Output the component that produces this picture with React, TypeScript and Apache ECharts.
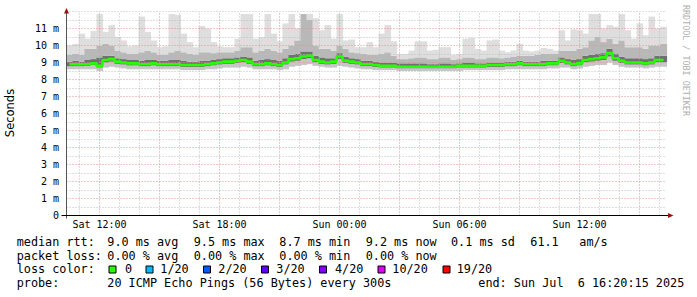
import React, { useEffect, useRef } from 'react';
import * as echarts from 'echarts';

// time axis: hours since Sat 00:00
const START_H = 10.35;
const END_H = 40.35;
const STEP_H = 0.3;

const median = [8.9,8.9,8.9,8.9,8.95, 8.8,9.15,9.2,9.05,9.0, 8.95,8.95,8.9,8.9,8.95, 8.9,8.9,8.9,8.9,8.85, 8.85,8.85,8.85,8.9,8.95, 9.0,9.05,9.05,9.1,9.15, 9.05,8.9,8.9,8.95,8.9, 8.85,9.0,9.2,9.25,9.35, 9.4,9.15,9.05,9.0,9.05, 9.35,9.1,9.05,9.0,8.9, 8.9,8.85,8.8,8.8,8.8, 8.75,8.75,8.75,8.75,8.75, 8.75,8.75,8.75,8.75,8.75, 8.8,8.8,8.8,8.8,8.8, 8.85,8.85,8.85,8.9,8.9, 8.95,8.9,8.9,8.9,8.9, 8.95,8.95,9.1,9.0,8.9, 8.95,9.15,9.2,9.25,9.3, 9.55,9.25,9.1,9.0,9.0, 9.0,8.95,9.0,9.15,9.15];
const smokeLow = [8.6,8.6,8.6,8.6,8.6, 8.5,8.7,8.75,8.7,8.65, 8.6,8.6,8.6,8.6,8.6, 8.6,8.6,8.6,8.6,8.55, 8.55,8.55,8.55,8.6,8.6, 8.65,8.7,8.7,8.7,8.75, 8.7,8.6,8.6,8.6,8.6, 8.55,8.6,8.75,8.8,8.85, 8.9,8.8,8.75,8.7,8.7, 8.8,8.75,8.7,8.65,8.6, 8.6,8.55,8.55,8.55,8.55, 8.5,8.5,8.5,8.5,8.5, 8.5,8.5,8.5,8.5,8.5, 8.5,8.55,8.55,8.55,8.55, 8.55,8.55,8.55,8.6,8.6, 8.6,8.6,8.6,8.6,8.6, 8.65,8.65,8.7,8.7,8.6, 8.65,8.75,8.8,8.85,8.85, 9.0,8.85,8.75,8.7,8.7, 8.7,8.65,8.7,8.75,8.75];
const smokeLowDark = [8.78,8.78,8.78,8.8,8.85, 8.7,9.0,9.05,8.92,8.88, 8.83,8.83,8.78,8.78,8.83, 8.78,8.78,8.78,8.78,8.74, 8.74,8.74,8.74,8.78,8.83, 8.88,8.92,8.92,8.97,9.02, 8.92,8.78,8.78,8.83,8.78, 8.74,8.88,9.05,9.1,9.2, 9.25,9.02,8.92,8.88,8.92, 9.2,8.97,8.92,8.88,8.78, 8.78,8.74,8.7,8.7,8.7, 8.66,8.66,8.66,8.66,8.66, 8.66,8.66,8.66,8.66,8.66, 8.7,8.7,8.7,8.7,8.7, 8.74,8.74,8.74,8.78,8.78, 8.83,8.78,8.78,8.78,8.78, 8.83,8.83,8.97,8.88,8.78, 8.83,9.02,9.05,9.1,9.15, 9.35,9.1,8.97,8.88,8.88, 8.88,8.83,8.88,9.02,9.02];
const smokeHighDark = [9.05,9.1,9.05,9.15,9.2, 9.3,9.4,9.4,9.25,9.2, 9.15,9.15,9.1,9.15,9.15, 9.1,9.1,9.15,9.15,9.1, 9.05,9.05,9.1,9.1,9.15, 9.2,9.25,9.25,9.3,9.35, 9.3,9.1,9.15,9.2,9.15, 9.1,9.25,9.45,9.5,9.65, 9.65,9.4,9.3,9.25,9.25, 9.55,9.35,9.25,9.2,9.1, 9.1,9.05,9.0,9.0,9.0, 8.95,8.95,8.95,8.95,8.95, 8.9,8.9,8.95,8.95,8.9, 8.95,9.0,9.0,8.95,8.95, 9.0,9.0,9.0,9.05,9.05, 9.1,9.05,9.05,9.05,9.1, 9.1,9.1,9.3,9.2,9.15, 9.2,9.4,9.45,9.5,9.55, 9.8,9.5,9.35,9.25,9.25, 9.25,9.2,9.25,9.4,9.4];
const smokeHighMid = [9.45,9.5,9.45,9.8,9.8, 10.0,10.1,10.0,9.7,9.6, 9.5,9.5,9.6,9.7,9.6, 9.45,9.45,9.6,9.7,9.6, 9.5,9.45,9.6,9.6,9.55, 9.6,9.6,9.6,9.7,9.9, 9.9,9.6,9.7,9.8,9.7, 9.6,9.8,10.0,10.3,11.85, 11.5,10.0,9.8,9.8,9.7, 10.0,9.8,9.6,9.55,9.5, 9.45,9.45,9.5,9.6,9.4, 9.2,9.2,9.25,9.3,9.3, 9.2,9.2,9.3,9.3,9.15, 9.2,9.3,9.3,9.2,9.2, 9.3,9.3,9.25,9.3,9.35, 9.4,9.4,9.4,9.45,9.5, 9.5,9.5,9.7,9.7,9.7, 9.8,9.9,10.3,10.5,10.2, 10.4,10.1,10.3,9.9,9.9, 9.9,9.8,10.0,10.0,10.1];
const smokeMax = [10.0,10.1,10.7,10.4,10.85, 11.85,10.8,11.2,10.5,10.3, 9.95,10.0,11.7,10.8,10.3, 9.9,9.95,11.85,11.8,10.7, 10.2,9.9,11.15,11.0,10.2, 9.95,9.9,9.9,10.4,11.85, 11.85,10.4,10.5,11.85,10.7, 10.25,11.3,11.85,11.0,11.85, 11.85,11.6,10.9,11.2,10.4, 11.85,10.3,10.35,9.9,9.9, 10.2,9.9,10.7,11.2,10.25, 9.5,9.5,9.7,10.25,10.25, 9.7,9.75,9.9,9.9,9.45, 9.5,10.4,10.45,9.8,9.7, 10.3,10.35,9.7,9.6,9.7, 10.1,9.7,9.65,9.7,9.85, 9.8,9.7,10.9,10.3,10.95, 10.9,10.7,11.85,11.85,11.0, 11.2,11.1,11.85,10.9,10.4, 11.3,10.6,11.7,11.0,11.1];

const xLabelHours = [12, 18, 24, 30, 36];
const xLabelTexts = ['Sat 12:00', 'Sat 18:00', 'Sun 00:00', 'Sun 06:00', 'Sun 12:00'];
const hourGrid = [11, 13, 14, 16, 17, 19, 20, 22, 23, 25, 26, 28, 29, 31, 32, 34, 35, 37, 38, 40];
const majorHourGrid = [12, 15, 18, 21, 24, 27, 30, 33, 36, 39];
const yMajorGrid = [1, 2, 3, 4, 5, 6, 7, 8, 9, 10, 11];
const yMinorGrid = [0.5, 1.5, 2.5, 3.5, 4.5, 5.5, 6.5, 7.5, 8.5, 9.5, 10.5, 11.5, 12];

const legendRtt = ['median rtt:', '9.0 ms avg', '9.5 ms max', '8.7 ms min', '9.2 ms now', '0.1 ms sd', '61.1', 'am/s'];
const legendLoss = ['packet loss:', '0.00 % avg', '0.00 % max', '0.00 % min', '0.00 % now'];
const lossLabels = ['0', '1/20', '2/20', '3/20', '4/20', '10/20', '19/20'];
const lossColors = ['#26ff00', '#00b8ff', '#0059ff', '#5e00ff', '#7e00ff', '#dd00ff', '#ff0000'];
const probeText = ['probe:', '20 ICMP Echo Pings (56 Bytes) every 300s', 'end: Sun Jul  6 16:20:15 2025'];

const MONO = '"DejaVu Sans Mono", monospace';

export default function App() {
  const ref = useRef<HTMLDivElement>(null);
  useEffect(() => {
    const chart = echarts.init(ref.current!, null, { renderer: 'svg' });
    const times = median.map((_, i) => START_H + (i + 0.5) * STEP_H);
    const smokeData = times.map((t, i) => [t, smokeLow[i], smokeLowDark[i], smokeHighDark[i], smokeHighMid[i], smokeMax[i]]);
    const medianData = times.map((t, i) => [t, median[i]]);

    const bands: [number, number, string][] = [
      [1, 2, '#c6c6c6'],
      [2, 3, '#707070'],
      [3, 4, '#b8b8b8'],
      [4, 5, '#dedede'],
    ];

    const gridX = 66.5, gridTop = 11.5, gridW = 600, gridH = 204;
    const axisY = gridTop + gridH;

    const rttX = [16.7, 107.3, 193.7, 279.3, 365.7, 451, 530.3, 579.3];
    const lossX = [16.7, 107.3, 193.7, 279.3, 365.7];
    const boxX = [109, 146, 203.5, 261.5, 319.5, 378, 443];
    const boxTextX = [125, 160.3, 218.3, 276.3, 335, 392.3, 456.7];
    const probeX = [16.7, 107.3, 478.3];
    const rowY = [241.5, 255.5, 269.3, 282.7];
    const fontLeg = `11.8px ${MONO}`;

    const graphic: any[] = [];
    legendRtt.forEach((t, i) => graphic.push({ type: 'text', x: rttX[i], y: rowY[0], style: { text: t, font: fontLeg, fill: '#000', verticalAlign: 'middle' } }));
    legendLoss.forEach((t, i) => graphic.push({ type: 'text', x: lossX[i], y: rowY[1], style: { text: t, font: fontLeg, fill: '#000', verticalAlign: 'middle' } }));
    graphic.push({ type: 'text', x: 16.7, y: rowY[2], style: { text: 'loss color:', font: fontLeg, fill: '#000', verticalAlign: 'middle' } });
    lossLabels.forEach((t, i) => {
      graphic.push({ type: 'rect', shape: { x: boxX[i], y: 266, width: 7, height: 7 }, style: { fill: lossColors[i], stroke: '#000', lineWidth: 1 } });
      graphic.push({ type: 'text', x: boxTextX[i], y: rowY[2], style: { text: t, font: fontLeg, fill: '#000', verticalAlign: 'middle' } });
    });
    probeText.forEach((t, i) => graphic.push({ type: 'text', x: probeX[i], y: rowY[3], style: { text: t, font: fontLeg, fill: '#000', verticalAlign: 'middle' } }));
    graphic.push({ type: 'text', x: 10, y: 113, rotation: Math.PI / 2, style: { text: 'Seconds', font: '11.5px "DejaVu Sans", sans-serif', fill: '#000', align: 'center', verticalAlign: 'middle' } });
    graphic.push({ type: 'text', x: 686, y: 5, rotation: -Math.PI / 2, style: { text: 'RRDTOOL / TOBI OETIKER', font: `8.4px ${MONO}`, fill: '#b0b0b0', align: 'left', verticalAlign: 'middle' } });
    // axes
    graphic.push({ type: 'line', z: 100, shape: { x1: gridX, y1: axisY + 3, x2: gridX, y2: 13 }, style: { stroke: '#555', lineWidth: 1 } });
    graphic.push({ type: 'line', z: 100, shape: { x1: 61.5, y1: axisY, x2: 668, y2: axisY }, style: { stroke: '#000', lineWidth: 1 } });
    graphic.push({ type: 'polygon', z: 101, shape: { points: [[64, 13.5], [69, 13.5], [66.5, 8]] }, style: { fill: '#9b1111' } });
    graphic.push({ type: 'polygon', z: 101, shape: { points: [[668, axisY - 2.5], [668, axisY + 2.5], [673.5, axisY]] }, style: { fill: '#9b1111' } });

    const dash = [1, 2];
    const option: any = {
      animation: false,
      backgroundColor: '#fff',
      grid: { left: gridX, top: gridTop, width: gridW, height: gridH, containLabel: false },
      xAxis: {
        type: 'value', min: START_H, max: END_H,
        axisLine: { show: false }, axisTick: { show: false }, splitLine: { show: false },
        axisLabel: {
          customValues: xLabelHours,
          formatter: (v: number) => { const k = xLabelHours.indexOf(Math.round(v)); return k >= 0 ? xLabelTexts[k] : ''; },
          fontFamily: MONO, fontSize: 10, color: '#000', margin: 4,
        },
      },
      yAxis: {
        type: 'value', min: 0, max: 12, interval: 1,
        axisLine: { show: false }, axisTick: { show: false }, splitLine: { show: false },
        axisLabel: {
          formatter: (v: number) => (v === 0 ? '0' : v === 12 ? '' : `${v} m`),
          fontFamily: MONO, fontSize: 10, color: '#000', margin: 7.5,
        },
      },
      graphic,
      series: [
        {
          type: 'custom', z: 2, silent: true,
          data: smokeData,
          encode: { x: 0, y: [1, 2, 3, 4, 5] },
          renderItem: (params: any, api: any) => {
            const x = api.value(0);
            const half = STEP_H / 2;
            const children = bands.map(([a, b, c]) => {
              const p1 = api.coord([x - half, api.value(b)]);
              const p2 = api.coord([x + half, api.value(a)]);
              return { type: 'rect', shape: { x: p1[0], y: p1[1], width: p2[0] - p1[0] + 0.6, height: p2[1] - p1[1] }, style: { fill: c } };
            });
            return { type: 'group', children };
          },
        },
        {
          type: 'line', z: 3, data: [], silent: true,
          markLine: {
            silent: true, symbol: ['none', 'none'], label: { show: false }, animation: false,
            lineStyle: { color: '#bdbdbd', type: dash, width: 1 },
            emphasis: { disabled: true },
            data: [...hourGrid.map((h) => ({ xAxis: h })), ...yMinorGrid.map((v) => ({ yAxis: v }))],
          },
        },
        {
          type: 'line', z: 3, data: [], silent: true,
          markLine: {
            silent: true, symbol: ['none', 'none'], label: { show: false }, animation: false,
            lineStyle: { color: '#e39090', type: dash, width: 1 },
            emphasis: { disabled: true },
            data: [...majorHourGrid.map((h) => ({ xAxis: h })), ...yMajorGrid.map((v) => ({ yAxis: v }))],
          },
        },
        {
          type: 'line', z: 5, data: medianData, step: 'middle', symbol: 'none', silent: true,
          lineStyle: { color: '#26ff00', width: 2.6 },
        },
      ],
    };
    chart.setOption(option);
    return () => chart.dispose();
  }, []);
  return <div ref={ref} style={{ position: 'fixed', left: 0, top: 0, width: 697, height: 297, background: '#fff' }} />;
}
